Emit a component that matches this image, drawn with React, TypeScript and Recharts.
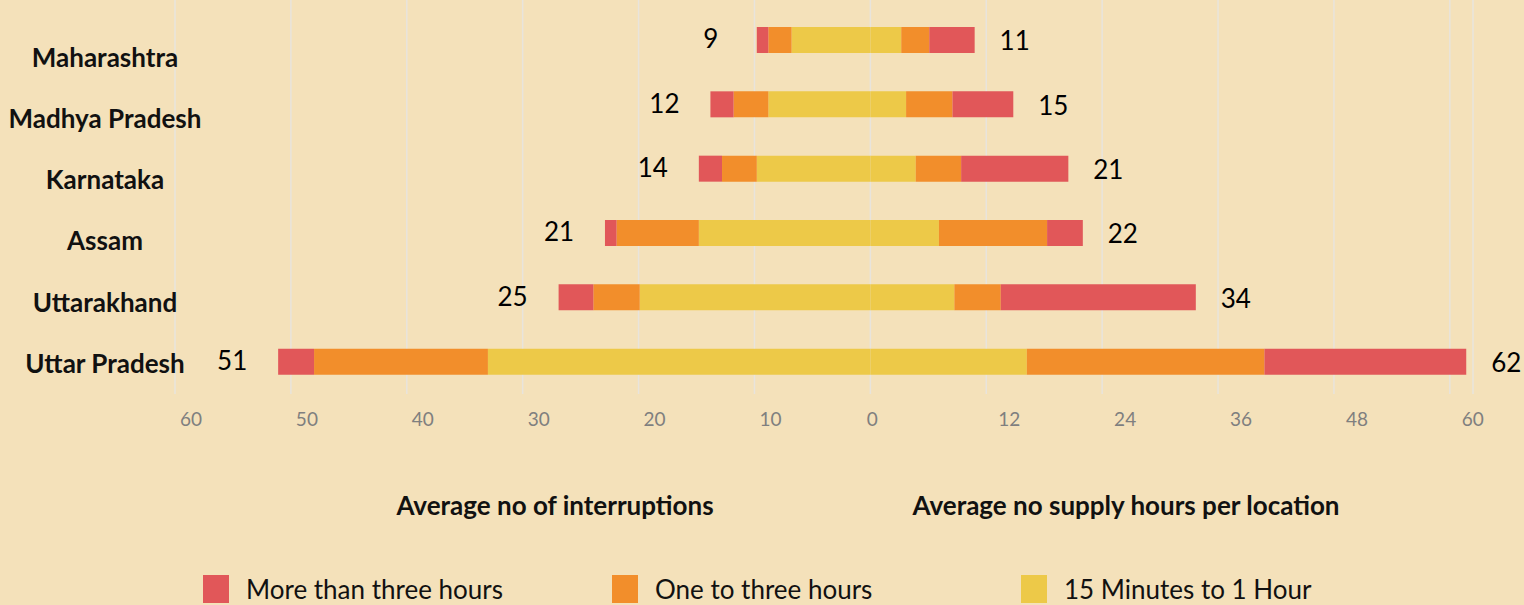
import React from 'react';
import { BarChart, Bar, XAxis, YAxis, CartesianGrid, LabelList } from 'recharts';

const states = ['Maharashtra', 'Madhya Pradesh', 'Karnataka', 'Assam', 'Uttarakhand', 'Uttar Pradesh'];

// left half: average no of interruptions
const intShort = [6.8, 8.8, 9.8, 14.8, 19.9, 33];
const intMid = [2, 3, 3, 7.1, 4, 15];
const intLong = [1, 2, 2, 1, 3, 3.1];
const intTotals = [9, 12, 14, 21, 25, 51];

// right half: average no supply hours per location
const hrsShort = [3.2, 3.7, 4.7, 7.1, 8.7, 16.2];
const hrsMid = [2.9, 4.8, 4.7, 11.2, 4.8, 24.6];
const hrsLong = [4.7, 6.3, 11.1, 3.7, 20.2, 20.9];
const hrsTotals = [11, 15, 21, 22, 34, 62];

const leftTicks = [60, 50, 40, 30, 20, 10, 0];
const rightTicks = [12, 24, 36, 48, 60];

const RED = '#E15759';
const ORANGE = '#F28E2B';
const YELLOW = '#EDC948';
const BG = '#F4E1BA';
const FONT = 'Lato, "Open Sans", sans-serif';

const legendItems = [
  { label: 'More than three hours', color: RED },
  { label: 'One to three hours', color: ORANGE },
  { label: '15 Minutes to 1 Hour', color: YELLOW },
];

// one shared axis: a grid step is 10 interruptions on the left, 12 hours on the right
const hrs = (h: number) => (h * 10) / 12;

const data = states.map((state, i) => ({
  state,
  lShort: -intShort[i],
  lMid: -intMid[i],
  lLong: -intLong[i],
  rShort: hrs(hrsShort[i]),
  rMid: hrs(hrsMid[i]),
  rLong: hrs(hrsLong[i]),
  lTotal: intTotals[i],
  rTotal: hrsTotals[i],
}));

const xTicks = [...leftTicks.map((v) => -v), ...rightTicks.map(hrs)];

const XTick = (props: any) => {
  const { x, y, payload } = props;
  const v = payload.value;
  const label = v < 0 ? String(-v) : v === 0 ? '0' : String(Math.round((v * 12) / 10));
  const dx = v < 0 ? 16 : v === 0 ? 2 : 23;
  return (
    <text x={x + dx} y={y + 25} dy="0.36em" textAnchor="middle" fill="#7F7F7F" fontSize={19} fontFamily={FONT}>
      {label}
    </text>
  );
};

const NameTick = (props: any) => {
  const { x, y, payload } = props;
  return (
    <text x={x - 10} y={y} dy="0.36em" textAnchor="middle" fill="#111" fontSize={26} fontWeight={700} fontFamily={FONT}>
      {payload.value}
    </text>
  );
};

const LeftLabel = (props: any) => {
  const { x, y, width, height, value } = props;
  const outer = Math.min(x, x + width);
  return (
    <text x={outer - 46} y={y + height / 2 - 1} dy="0.36em" textAnchor="middle" fill="#000" fontSize={26} fontFamily={FONT}>
      {value}
    </text>
  );
};

const RightLabel = (props: any) => {
  const { x, y, width, height, value } = props;
  const outer = Math.max(x, x + width);
  return (
    <text x={outer + 40} y={y + height / 2 + 1} dy="0.36em" textAnchor="middle" fill="#000" fontSize={26} fontFamily={FONT}>
      {value}
    </text>
  );
};

export default function App() {
  return (
    <div style={{ position: 'absolute', left: 0, top: 0, width: 1524, height: 605, background: BG, fontFamily: FONT, overflow: 'hidden' }}>
      <BarChart
        width={1524}
        height={605}
        data={data}
        layout="vertical"
        stackOffset="sign"
        margin={{ top: 0, right: 51, bottom: 0, left: 0 }}
      >
        <CartesianGrid horizontal={false} vertical stroke="#E8E4DC" strokeWidth={1.5} yAxisId="bars" />
        <XAxis
          type="number"
          domain={[-60, 52]}
          ticks={xTicks}
          interval={0}
          height={211}
          axisLine={false}
          tickLine={false}
          tickSize={0}
          tickMargin={0}
          tick={<XTick />}
        />
        <YAxis yAxisId="bars" type="category" dataKey="state" hide padding={{ top: 8, bottom: 0 }} />
        <YAxis
          yAxisId="names"
          type="category"
          dataKey="state"
          width={175}
          interval={0}
          axisLine={false}
          tickLine={false}
          tickSize={0}
          tickMargin={0}
          padding={{ top: 27, bottom: 0 }}
          tick={<NameTick />}
        />
        <Bar yAxisId="bars" dataKey="lShort" stackId="s" fill={YELLOW} barSize={26} isAnimationActive={false} />
        <Bar yAxisId="bars" dataKey="lMid" stackId="s" fill={ORANGE} barSize={26} isAnimationActive={false} />
        <Bar yAxisId="bars" dataKey="lLong" stackId="s" fill={RED} barSize={26} isAnimationActive={false}>
          <LabelList dataKey="lTotal" content={<LeftLabel />} />
        </Bar>
        <Bar yAxisId="bars" dataKey="rShort" stackId="s" fill={YELLOW} barSize={26} isAnimationActive={false} />
        <Bar yAxisId="bars" dataKey="rMid" stackId="s" fill={ORANGE} barSize={26} isAnimationActive={false} />
        <Bar yAxisId="bars" dataKey="rLong" stackId="s" fill={RED} barSize={26} isAnimationActive={false}>
          <LabelList dataKey="rTotal" content={<RightLabel />} />
        </Bar>
      </BarChart>

      <div style={{ position: 'absolute', left: 555, top: 505, transform: 'translate(-50%, -50%)', fontSize: 26, fontWeight: 700, lineHeight: '26px', whiteSpace: 'nowrap', color: '#111' }}>
        Average no of interruptions
      </div>
      <div style={{ position: 'absolute', left: 1126, top: 505, transform: 'translate(-50%, -50%)', fontSize: 26, fontWeight: 700, lineHeight: '26px', whiteSpace: 'nowrap', color: '#111' }}>
        Average no supply hours per location
      </div>

      <div style={{ position: 'absolute', left: 203, top: 575, display: 'flex' }}>
        {legendItems.map((it) => (
          <div key={it.label} style={{ width: 409, display: 'flex', alignItems: 'center' }}>
            <div style={{ width: 26, height: 28, background: it.color, marginRight: 17 }} />
            <span style={{ fontSize: 26, lineHeight: '28px', color: '#111', whiteSpace: 'nowrap' }}>{it.label}</span>
          </div>
        ))}
      </div>
    </div>
  );
}
